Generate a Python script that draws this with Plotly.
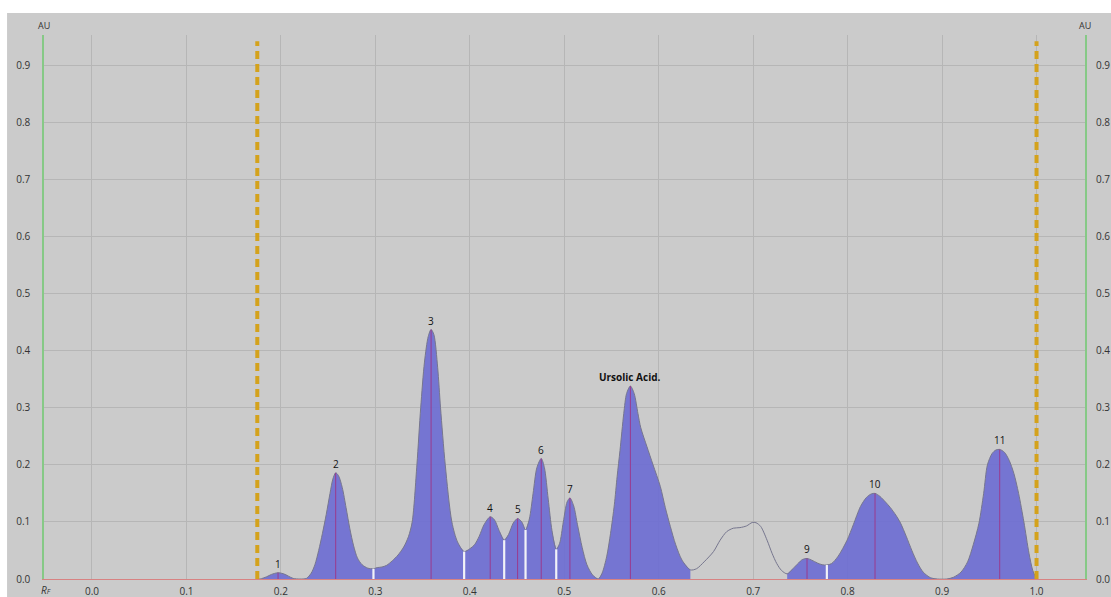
import numpy as np
import plotly.graph_objects as go

# ---- densitogram curve (Rf, AU) ----
rf = [0.175, 0.178, 0.185, 0.190, 0.197, 0.203, 0.208, 0.213, 0.220, 0.227,
      0.232, 0.236, 0.240, 0.244, 0.248, 0.252, 0.255, 0.258, 0.261, 0.265,
      0.269, 0.273, 0.277, 0.281, 0.286, 0.292, 0.298,
      0.302, 0.307, 0.312, 0.318, 0.324, 0.330, 0.335, 0.339, 0.344, 0.348,
      0.352, 0.356, 0.359, 0.362, 0.366, 0.369, 0.374, 0.381, 0.387, 0.394,
      0.400, 0.405, 0.410, 0.415, 0.4216, 0.426, 0.431, 0.4364,
      0.441, 0.446, 0.4506, 0.455, 0.459,
      0.463, 0.467, 0.471, 0.4756, 0.479, 0.483, 0.487, 0.4915,
      0.495, 0.499, 0.503, 0.506, 0.510, 0.514, 0.519, 0.524, 0.530, 0.536,
      0.540, 0.545, 0.549, 0.553, 0.556, 0.559, 0.563, 0.566, 0.570, 0.574,
      0.578, 0.581, 0.5875, 0.594, 0.6017, 0.607, 0.6123, 0.618, 0.6247, 0.6335,
      0.640, 0.648, 0.658, 0.665, 0.672, 0.679, 0.686, 0.693, 0.699, 0.703,
      0.708, 0.7147, 0.720, 0.725, 0.730, 0.736,
      0.742, 0.748, 0.752, 0.757, 0.762, 0.768, 0.773, 0.778,
      0.783, 0.790, 0.7994, 0.806, 0.8136, 0.820, 0.825, 0.829, 0.834, 0.840,
      0.8453, 0.851, 0.856, 0.862, 0.868, 0.874, 0.880, 0.888, 0.895, 0.905,
      0.912, 0.920, 0.927, 0.933, 0.939, 0.944, 0.948, 0.953, 0.957, 0.961,
      0.966, 0.971, 0.976, 0.981, 0.9866, 0.992, 0.996, 1.000]
au = [0.000, 0.000, 0.004, 0.008, 0.011, 0.009, 0.005, 0.001, 0.000, 0.001,
      0.010, 0.025, 0.050, 0.080, 0.113, 0.150, 0.175, 0.186, 0.181, 0.160,
      0.125, 0.088, 0.058, 0.037, 0.025, 0.019, 0.018,
      0.020, 0.021, 0.024, 0.032, 0.042, 0.056, 0.074, 0.100, 0.200, 0.300,
      0.380, 0.425, 0.437, 0.428, 0.370, 0.300, 0.200, 0.100, 0.065, 0.048,
      0.053, 0.060, 0.075, 0.095, 0.109, 0.104, 0.085, 0.068,
      0.078, 0.098, 0.106, 0.100, 0.086,
      0.105, 0.150, 0.195, 0.211, 0.195, 0.140, 0.085, 0.052,
      0.062, 0.100, 0.135, 0.142, 0.128, 0.095, 0.055, 0.025, 0.007, 0.000,
      0.010, 0.040, 0.080, 0.130, 0.180, 0.225, 0.290, 0.325, 0.338, 0.325,
      0.290, 0.265, 0.232, 0.200, 0.162, 0.125, 0.092, 0.060, 0.033, 0.016,
      0.018, 0.030, 0.048, 0.068, 0.083, 0.089, 0.090, 0.093, 0.099, 0.0986,
      0.092, 0.068, 0.045, 0.027, 0.015, 0.009,
      0.018, 0.028, 0.034, 0.036, 0.033, 0.028, 0.025, 0.0245,
      0.027, 0.040, 0.068, 0.095, 0.127, 0.143, 0.149, 0.150, 0.145, 0.135,
      0.125, 0.112, 0.098, 0.075, 0.050, 0.028, 0.012, 0.002, 0.000, 0.000,
      0.003, 0.012, 0.030, 0.060, 0.0975, 0.150, 0.200, 0.220, 0.226, 0.227,
      0.222, 0.208, 0.185, 0.150, 0.100, 0.045, 0.015, 0.000]

# integrated peak zones (start, end) and separators
zones_start = [0.175, 0.227, 0.298, 0.394, 0.4364, 0.459, 0.4915, 0.536, 0.736, 0.778, 0.905]
zones_end = [0.227, 0.298, 0.394, 0.4364, 0.459, 0.4915, 0.536, 0.6335, 0.778, 0.905, 1.000]
separators = [0.298, 0.394, 0.4364, 0.459, 0.4915, 0.778]

# peaks
peak_rf = [0.197, 0.258, 0.359, 0.4216, 0.4506, 0.4756, 0.506, 0.570, 0.757, 0.829, 0.961]
peak_au = [0.011, 0.186, 0.437, 0.109, 0.106, 0.211, 0.142, 0.338, 0.036, 0.150, 0.227]
peak_lbl = ["1", "2", "3", "4", "5", "6", "7", "Ursolic Acid.", "9", "10", "11"]

# start / end markers of the track
track_marks = [0.175, 1.0]

x_ticks = [0.0, 0.1, 0.2, 0.3, 0.4, 0.5, 0.6, 0.7, 0.8, 0.9, 1.0]
x_ticktext = ["0.0", "0.1", "0.2", "0.3", "0.4", "0.5", "0.6", "0.7", "0.8", "0.9", "1.0"]
y_ticks = [0.0, 0.1, 0.2, 0.3, 0.4, 0.5, 0.6, 0.7, 0.8, 0.9]
y_ticktext = ["0.0", "0.1", "0.2", "0.3", "0.4", "0.5", "0.6", "0.7", "0.8", "0.9"]

RF = np.array(rf)
AU = np.array(au)

BG = "#cbcbcb"
GRID = "#b6b6b6"
FILL = "rgba(112,112,210,0.95)"
FONT = "Open Sans"
TXT = "#333333"
GREEN = "#86c986"

fig = go.Figure()

# filled peak zones
for a, b in zip(zones_start, zones_end):
    m = (RF >= a - 1e-9) & (RF <= b + 1e-9)
    fig.add_trace(go.Scatter(x=RF[m], y=AU[m], mode="lines", line=dict(width=0, shape="spline", smoothing=0.8),
                             fill="tozeroy", fillcolor=FILL, hoverinfo="skip", showlegend=False))

# outline of whole curve
fig.add_trace(go.Scatter(x=RF, y=AU, mode="lines", line=dict(color="#76768e", width=1, shape="spline", smoothing=0.8),
                         hoverinfo="skip", showlegend=False))

# white separators between zones
for s in separators:
    v = float(np.interp(s, RF, AU))
    fig.add_trace(go.Scatter(x=[s, s], y=[0, v], mode="lines", line=dict(color="#f2f2f8", width=2.2),
                             hoverinfo="skip", showlegend=False))

# peak maxima lines
for p, h in zip(peak_rf, peak_au):
    fig.add_trace(go.Scatter(x=[p, p], y=[0, h], mode="lines", line=dict(color="#9a3a8e", width=1),
                             hoverinfo="skip", showlegend=False))

# track start / end dashed lines
for t in track_marks:
    fig.add_trace(go.Scatter(x=[t, t], y=[0, 0.942], mode="lines",
                             line=dict(color="#d4a21c", width=4, dash="8px,5px"),
                             hoverinfo="skip", showlegend=False))

# dummy trace for right axis
fig.add_trace(go.Scatter(x=[0.5], y=[0.5], yaxis="y2", mode="markers", marker=dict(opacity=0),
                         hoverinfo="skip", showlegend=False))

# peak labels
for p, h, t in zip(peak_rf, peak_au, peak_lbl):
    bold = t.startswith("U")
    fig.add_annotation(x=p, y=h, text=("<b>%s</b>" % t) if bold else t, showarrow=False,
                       xanchor="center", yanchor="bottom", yshift=0,
                       font=dict(family=FONT, size=10, color="#111111"))

# axis titles
fig.add_annotation(xref="paper", yref="paper", x=0, y=1.0, yshift=10, text="AU", showarrow=False,
                   xanchor="center", yanchor="middle", font=dict(family=FONT, size=9, color=TXT))
fig.add_annotation(xref="paper", yref="paper", x=1, y=1.0, yshift=10, text="AU", showarrow=False,
                   xanchor="center", yanchor="middle", font=dict(family=FONT, size=9, color=TXT))
fig.add_annotation(xref="paper", yref="paper", x=0, y=0, xshift=2, yshift=-11,
                   text="<i>R</i><span style='font-size:7px'><i>F</i></span>", showarrow=False,
                   xanchor="center", yanchor="middle", font=dict(family=FONT, size=10, color=TXT))

# white strips at the top and left edge (outside the gray panel)
fig.add_shape(type="rect", xref="paper", yref="paper", x0=-0.1, x1=1.1, y0=1.0404, y1=1.2,
              fillcolor="white", line=dict(width=0), layer="below")
fig.add_shape(type="rect", xref="paper", yref="paper", x0=-0.1, x1=-0.0355, y0=-0.2, y1=1.2,
              fillcolor="white", line=dict(width=0), layer="below")

axis_font = dict(family=FONT, size=10, color=TXT)
fig.update_layout(
    width=1111, height=597,
    margin=dict(l=44, r=26, t=35, b=18, autoexpand=False),
    paper_bgcolor=BG, plot_bgcolor=BG,
    xaxis=dict(range=[-0.0508, 1.0513], tickvals=x_ticks, ticktext=x_ticktext, showgrid=True,
               gridcolor=GRID, gridwidth=1, zeroline=False, showline=True, linecolor="#d88282",
               linewidth=1, ticks="", tickfont=axis_font, ticklabelstandoff=3, automargin=False),
    yaxis=dict(range=[0, 0.953], tickvals=y_ticks, ticktext=y_ticktext, showgrid=True,
               gridcolor=GRID, gridwidth=1, zeroline=False, showline=True, linecolor=GREEN,
               linewidth=1.5, mirror=True, ticks="", tickfont=axis_font, ticklabelstandoff=10,
               automargin=False),
    yaxis2=dict(range=[0, 0.953], overlaying="y", side="right", tickvals=y_ticks, ticktext=y_ticktext,
                showgrid=False, zeroline=False, showline=False,
                ticks="", tickfont=axis_font, ticklabelstandoff=10, automargin=False),
    showlegend=False,
)

fig.write_html("out.html", config={"displayModeBar": False},
               post_script="document.body.style.margin='0';document.body.style.overflow='hidden';")
